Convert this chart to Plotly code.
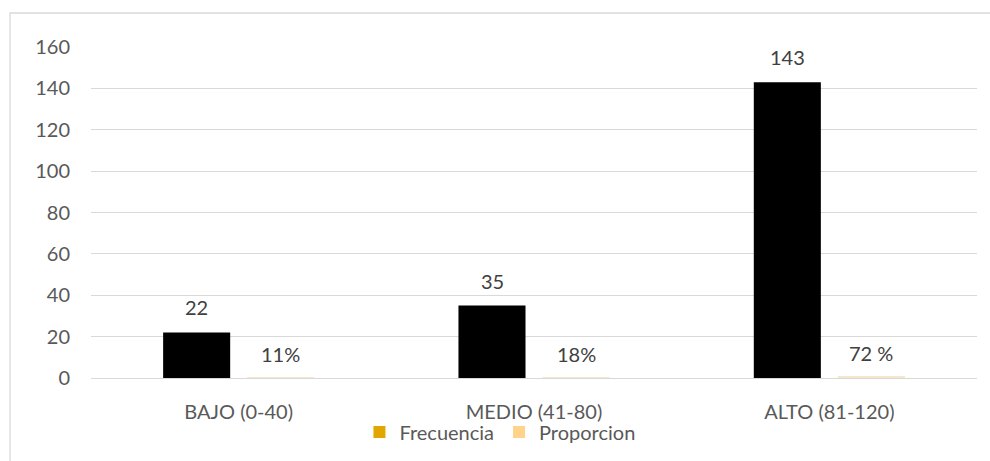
import plotly.graph_objects as go

# Data
categorias = ["BAJO (0-40)", "MEDIO (41-80)", "ALTO (81-120)"]
frecuencia = [22, 35, 143]
proporcion = [0.11, 0.18, 0.72]
etiquetas_frecuencia = ["22", "35", "143"]
etiquetas_proporcion = ["11%", "18%", "72 %"]
ticks_y = [0, 20, 40, 60, 80, 100, 120, 140, 160]

FONT = "Lato"
SIZE = 20
GRIS_TEXTO = "#595959"
GRIS_TEXTO_OSCURO = "#404040"
GRIS_LINEA = "#D9D9D9"
COLOR_FREC = "#E3A600"
COLOR_PROP = "#FFD38A"

fig = go.Figure()

# Bars (grouped): the frequency bars are black, the proportion bars sit on the same axis
fig.add_trace(go.Bar(
    x=categorias, y=frecuencia, name="Frecuencia",
    marker=dict(color="#000000", line=dict(width=0)),
    showlegend=False, hoverinfo="x+y",
))
fig.add_trace(go.Bar(
    x=categorias, y=proporcion, name="Proporcion",
    marker=dict(color="#F5E6CC", line=dict(width=0)),
    showlegend=False, hoverinfo="x+y",
))

# Legend entries
fig.add_trace(go.Scatter(
    x=[None], y=[None], mode="markers", name="Frecuencia",
    marker=dict(symbol="square", size=14, color=COLOR_FREC),
))
fig.add_trace(go.Scatter(
    x=[None], y=[None], mode="markers", name="Proporcion",
    marker=dict(symbol="square", size=14, color=COLOR_PROP),
))

# Value labels above each bar
for cat, val, txt in zip(categorias, frecuencia, etiquetas_frecuencia):
    fig.add_annotation(x=cat, y=val, text=txt, showarrow=False,
                       xshift=-42, yshift=25, yanchor="middle",
                       font=dict(family=FONT, size=SIZE, color=GRIS_TEXTO_OSCURO))
for cat, val, txt in zip(categorias, proporcion, etiquetas_proporcion):
    fig.add_annotation(x=cat, y=val, text=txt, showarrow=False,
                       xshift=42, yshift=24, yanchor="middle",
                       font=dict(family=FONT, size=SIZE, color=GRIS_TEXTO_OSCURO))

# Chart frame
fig.add_shape(type="rect", xref="paper", yref="paper",
              x0=-0.0914, x1=1.05, y0=-0.4, y1=1.1027,
              line=dict(color=GRIS_LINEA, width=1.3), fillcolor="rgba(0,0,0,0)",
              layer="below")

fig.update_layout(
    width=990, height=461,
    margin=dict(l=91, r=13, t=47, b=83, autoexpand=False),
    paper_bgcolor="white", plot_bgcolor="white",
    barmode="group", bargap=0.431, bargroupgap=0.202,
    font=dict(family=FONT, size=SIZE, color=GRIS_TEXTO),
    xaxis=dict(
        showgrid=False, showline=False, zeroline=False, ticks="",
        ticklabelstandoff=20, automargin=False,
        tickfont=dict(family=FONT, size=SIZE, color=GRIS_TEXTO),
    ),
    yaxis=dict(
        range=[0, 160], tickvals=ticks_y, automargin=False,
        showgrid=True, gridcolor=GRIS_LINEA, gridwidth=1.3,
        zeroline=True, zerolinecolor=GRIS_LINEA, zerolinewidth=1.3,
        showline=False, ticks="", ticklabelstandoff=20,
        tickfont=dict(family=FONT, size=SIZE, color=GRIS_TEXTO),
    ),
    legend=dict(
        orientation="h", xref="container", yref="container",
        x=0.505, xanchor="center", y=0.063, yanchor="middle",
        font=dict(family=FONT, size=SIZE, color=GRIS_TEXTO),
        itemsizing="constant", itemwidth=30, tracegroupgap=0,
        bgcolor="rgba(0,0,0,0)",
    ),
)

fig.write_html("out.html")
